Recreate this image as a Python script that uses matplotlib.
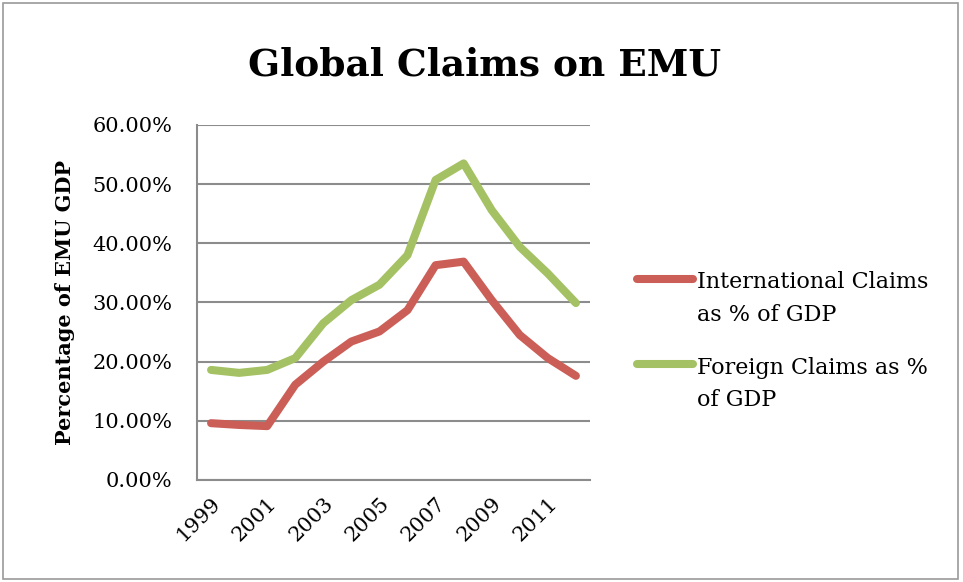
import matplotlib
matplotlib.use("Agg")
import numpy as np
import matplotlib.pyplot as plt
from matplotlib.patches import Rectangle
from matplotlib.ticker import FuncFormatter
from matplotlib.legend_handler import HandlerLine2D

years = list(range(1999, 2013))
international = [9.6, 9.3, 9.1, 16.1, 20.0, 23.4, 25.1, 28.7, 36.3, 36.9, 30.4, 24.5, 20.6, 17.6]
foreign = [18.6, 18.1, 18.6, 20.6, 26.5, 30.4, 33.0, 38.0, 50.7, 53.5, 45.6, 39.4, 34.9, 29.9]
tick_years = [1999, 2001, 2003, 2005, 2007, 2009, 2011]

plt.rcParams['font.family'] = ['DejaVu Serif']


class TopLineHandler(HandlerLine2D):
    # put the legend line next to the first text line, as Excel does
    def create_artists(self, legend, orig_handle, xdescent, ydescent,
                       width, height, fontsize, trans):
        arts = super().create_artists(legend, orig_handle, xdescent, ydescent,
                                      width, height, fontsize, trans)
        for a in arts:
            a.set_ydata(np.asarray(a.get_ydata()) + 0.9 * fontsize)
        return arts


fig = plt.figure(figsize=(9.63, 5.82), dpi=100)
ax = fig.add_axes([0.2046, 0.1753, 0.408, 0.61])

red = '#CB5F58'
green = '#A4C263'
x = list(range(len(years)))
ax.plot(x, international, color=red, lw=5.8, solid_capstyle='round',
        solid_joinstyle='round', label='International Claims\nas % of GDP', zorder=3)
ax.plot(x, foreign, color=green, lw=5.8, solid_capstyle='round',
        solid_joinstyle='round', label='Foreign Claims as %\nof GDP', zorder=3)

ax.set_xlim(-0.5, len(years) - 0.5)
ax.set_ylim(0, 60)
ax.set_yticks(range(0, 61, 10))
ax.yaxis.set_major_formatter(FuncFormatter(lambda v, p: f"{v:.2f}%"))
ax.set_xticks([years.index(y) for y in tick_years])
ax.set_xticklabels([str(y) for y in tick_years], rotation=45, ha='right',
                   rotation_mode='anchor')
ax.tick_params(axis='both', length=0, labelsize=15, colors='black')
ax.tick_params(axis='y', pad=18)
ax.tick_params(axis='x', pad=10)

ax.grid(axis='y', color='#8c8c8c', lw=1.5, zorder=1)
for s in ['top', 'right']:
    ax.spines[s].set_visible(False)
for s in ['left', 'bottom']:
    ax.spines[s].set_color('#8c8c8c')
    ax.spines[s].set_linewidth(1.5)

ax.set_ylabel('Percentage of EMU GDP', fontsize=15, fontweight='bold', labelpad=12)
fig.text(0.503, 0.888, 'Global Claims on EMU', ha='center', va='center',
         fontsize=27, fontweight='bold')

leg = ax.legend(loc='upper left', bbox_to_anchor=(1.07, 0.644), frameon=False,
                fontsize=16, handlelength=2.5, handletextpad=0.2,
                labelspacing=1.4,
                handler_map={plt.Line2D: TopLineHandler()})
for t in leg.get_texts():
    t.set_linespacing(1.6)

fig.add_artist(Rectangle((0.003, 0.006), 0.992, 0.988, transform=fig.transFigure,
                         fill=False, edgecolor='#9a9a9a', lw=1.2))

fig.savefig('out.png', dpi=100)
